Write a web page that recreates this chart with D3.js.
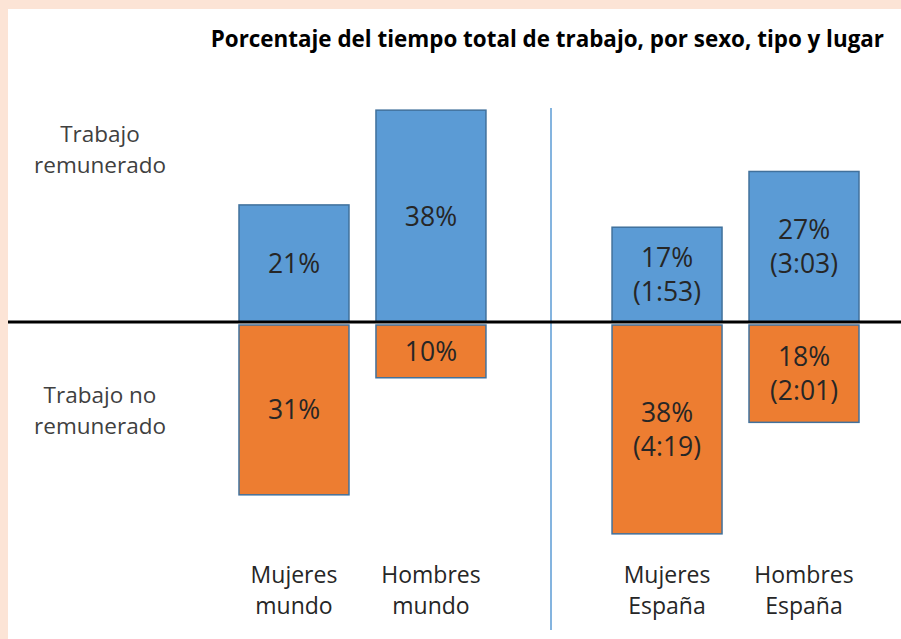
<!DOCTYPE html>
<html>
<head>
<meta charset="utf-8">
<script src="https://cdn.jsdelivr.net/npm/d3@7"></script>
<style>
  html, body { margin: 0; padding: 0; background: #fce4d6; }
  svg { display: block; }
</style>
</head>
<body>
<script>
// Datos del gráfico
const grupos = ["mundo", "España"];
const sexos = ["Mujeres", "Hombres"];
const etiquetasGrupo = ["mundo", "España"];
const remunerado = [21, 38, 17, 27];        // % trabajo remunerado
const noRemunerado = [31, 10, 38, 18];      // % trabajo no remunerado
const horasRemunerado = ["", "", "1:53", "3:03"];
const horasNoRemunerado = ["", "", "4:19", "2:01"];
const filas = [["Trabajo", "remunerado"], ["Trabajo no", "remunerado"]];
const titulo = "Porcentaje del tiempo total de trabajo, por sexo, tipo y lugar";

const width = 901;
const height = 639;
const fontFam = "'Open Sans', 'Noto Sans', sans-serif";

const svg = d3.select("body").append("svg")
  .attr("width", width)
  .attr("height", height);

// fondo: borde melocotón y panel blanco
svg.append("rect").attr("width", width).attr("height", height).attr("fill", "#fce4d6");
svg.append("rect").attr("x", 8).attr("y", 9).attr("width", width - 8).attr("height", height - 9).attr("fill", "#ffffff");

// escalas
const xGrupo = d3.scaleBand().domain(grupos).range([239, 859]).paddingInner(0.338).paddingOuter(0);
const xSexo = d3.scaleBand().domain(sexos).range([0, xGrupo.bandwidth()]).paddingInner(0.197).paddingOuter(0);
const y = d3.scaleLinear().domain([-40, 40]).range([545, 99]);

const datos = [];
grupos.forEach((g, gi) => {
  sexos.forEach((s, si) => {
    const i = gi * 2 + si;
    datos.push({
      grupo: g, sexo: s, etiqueta: etiquetasGrupo[gi],
      rem: remunerado[i], noRem: noRemunerado[i],
      hRem: horasRemunerado[i], hNoRem: horasNoRemunerado[i]
    });
  });
});
const xPos = d => xGrupo(d.grupo) + xSexo(d.sexo);
const bw = xSexo.bandwidth();

// título
svg.append("text")
  .attr("x", 884)
  .attr("y", 47)
  .attr("text-anchor", "end")
  .attr("font-family", fontFam)
  .attr("font-weight", "bold")
  .attr("font-size", 22.4)
  .attr("fill", "#000")
  .text(titulo);

// barras remunerado (azul)
svg.selectAll(".bar-rem")
  .data(datos)
  .enter().append("rect")
  .attr("class", "bar-rem")
  .attr("x", xPos)
  .attr("y", d => y(d.rem))
  .attr("width", bw)
  .attr("height", d => y(0) - y(d.rem))
  .attr("fill", "#5b9bd5")
  .attr("stroke", "#41719c")
  .attr("stroke-width", 1.5);

// barras no remunerado (naranja)
svg.selectAll(".bar-norem")
  .data(datos)
  .enter().append("rect")
  .attr("class", "bar-norem")
  .attr("x", xPos)
  .attr("y", y(0) + 3)
  .attr("width", bw)
  .attr("height", d => y(-d.noRem) - y(0) - 3)
  .attr("fill", "#ed7d31")
  .attr("stroke", "#41719c")
  .attr("stroke-width", 1.5);

// línea separadora vertical
const sepX = (xGrupo("mundo") + xGrupo.bandwidth() + xGrupo("España")) / 2 + 2;
svg.append("line")
  .attr("x1", sepX).attr("x2", sepX)
  .attr("y1", 108).attr("y2", 630)
  .attr("stroke", "#5b9bd5")
  .attr("stroke-width", 1.5);

// línea del cero
svg.append("line")
  .attr("x1", 8).attr("x2", width)
  .attr("y1", y(0)).attr("y2", y(0))
  .attr("stroke", "#000")
  .attr("stroke-width", 3);

// etiquetas de valores
function etiquetaValor(sel, valor, hora, yCentro) {
  const lineas = hora ? [valor + "%", "(" + hora + ")"] : [valor + "%"];
  const lh = 34;
  const t = sel.append("text")
    .attr("text-anchor", "middle")
    .attr("font-family", fontFam)
    .attr("font-size", 26.5)
    .attr("fill", "#262626");
  lineas.forEach((l, i) => {
    t.append("tspan")
      .attr("x", 0)
      .attr("y", yCentro + 9.5 + (i - (lineas.length - 1) / 2) * lh)
      .text(l);
  });
}

datos.forEach(d => {
  const g = svg.append("g").attr("transform", `translate(${xPos(d) + bw / 2},0)`);
  etiquetaValor(g, d.rem, d.hRem, (y(d.rem) + y(0)) / 2);
  etiquetaValor(g, d.noRem, d.hNoRem, (y(0) + 3 + y(-d.noRem)) / 2);
});

// etiquetas de categorías
datos.forEach(d => {
  const t = svg.append("text")
    .attr("text-anchor", "middle")
    .attr("font-family", fontFam)
    .attr("font-size", 23)
    .attr("fill", "#262626");
  [d.sexo, d.etiqueta].forEach((l, i) => {
    t.append("tspan")
      .attr("x", xPos(d) + bw / 2)
      .attr("y", 583 + i * 31)
      .text(l);
  });
});

// etiquetas de filas a la izquierda
const filasY = [142, 403];
filas.forEach((ls, k) => {
  const t = svg.append("text")
    .attr("text-anchor", "middle")
    .attr("font-family", fontFam)
    .attr("font-size", 22.5)
    .attr("fill", "#404040");
  ls.forEach((l, i) => {
    t.append("tspan")
      .attr("x", 100)
      .attr("y", filasY[k] + i * 31)
      .text(l);
  });
});
</script>
</body>
</html>
